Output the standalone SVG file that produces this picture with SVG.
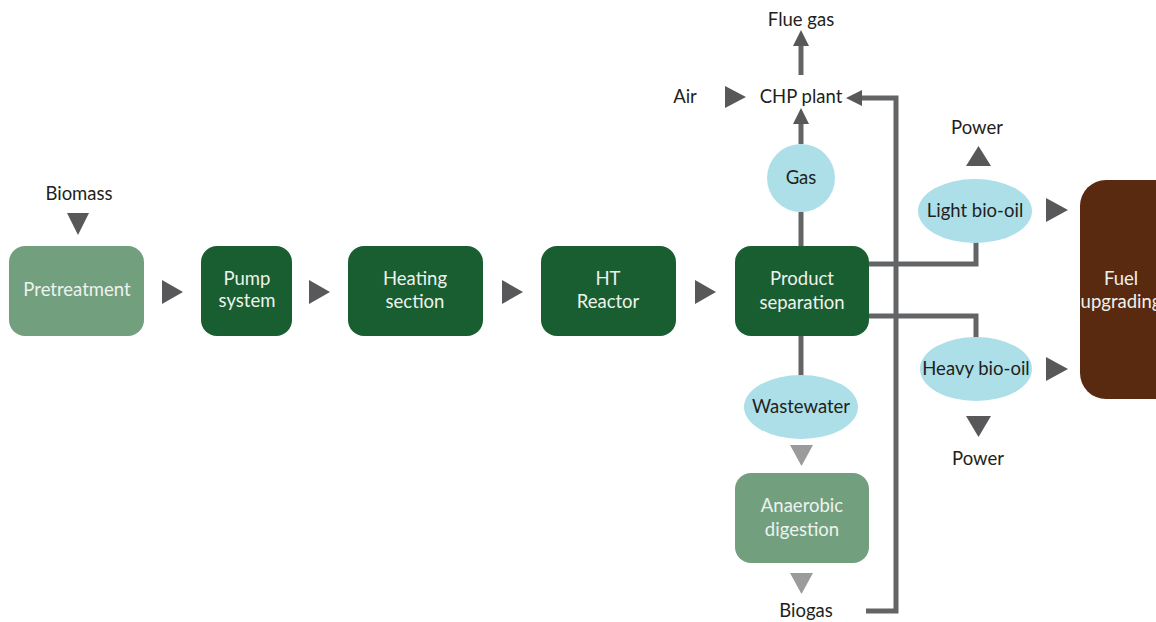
<svg xmlns="http://www.w3.org/2000/svg" width="1156" height="622" viewBox="0 0 1156 622">
<style>
text{font-family:Lato,"Open Sans","Liberation Sans",sans-serif;font-size:18.5px;text-anchor:middle}
.lbl{fill:#231f20}
.wt{fill:#eef2ee}
.dk{fill:#195e30}
.lt{fill:#72a07f}
.bl{fill:#acdfe8}
.ar{fill:#58585a}
.ag{fill:#9b9b9b}
.ln{stroke:#636466;stroke-width:5;fill:none}
</style>
<rect width="1156" height="622" fill="#fff"/>
<g id="connectors">
<path class="ln" d="M801 246V212M801 144V120"/>
<path class="ln" d="M801 75V44"/>
<polygon class="ar" points="801,30 793,46 809,46"/>
<polygon class="ar" points="801,108 793,124 809,124"/>
<path class="ln" d="M866 611H896V98H860"/>
<polygon class="ar" points="846,98 862,90 862,106"/>
<path class="ln" d="M869 264H976V242"/>
<path class="ln" d="M869 316H976V338"/>
<path class="ln" d="M801 336V376"/>
<polygon class="ar" points="162,280 183,292 162,304"/>
<polygon class="ar" points="309,280 330,292 309,304"/>
<polygon class="ar" points="502,280 523,292 502,304"/>
<polygon class="ar" points="695,280 716,292 695,304"/>
<polygon class="ar" points="67,213 89,213 78,235"/>
<polygon class="ar" points="725,86 746,97 725,108"/>
<polygon class="ar" points="966,166 991,166 978.5,146"/>
<polygon class="ar" points="966,416 991,416 978.5,437"/>
<polygon class="ar" points="1046,198 1068,210 1046,222"/>
<polygon class="ar" points="1046,357 1068,369 1046,381"/>
<polygon class="ag" points="790,445 813,445 801.5,466"/>
<polygon class="ag" points="790,573 813,573 801.5,594"/>
</g>
<g id="labels">
<text class="lbl" x="79" y="200">Biomass</text>
<text class="lbl" x="801" y="26">Flue gas</text>
<text class="lbl" x="801" y="103">CHP plant</text>
<text class="lbl" x="685" y="103">Air</text>
<text class="lbl" x="977" y="134">Power</text>
<text class="lbl" x="978" y="465">Power</text>
<text class="lbl" x="806" y="617">Biogas</text>
</g>
<g id="pretreatment"><rect class="lt" x="9" y="246" width="135" height="90" rx="16"/><text class="wt" x="77" y="296">Pretreatment</text></g>
<g id="pump"><rect class="dk" x="201" y="246" width="91" height="90" rx="16"/><text class="wt" x="247" y="285">Pump</text><text class="wt" x="247" y="307">system</text></g>
<g id="heating"><rect class="dk" x="348" y="246" width="135" height="90" rx="16"/><text class="wt" x="415" y="285">Heating</text><text class="wt" x="415" y="308">section</text></g>
<g id="reactor"><rect class="dk" x="541" y="246" width="135" height="90" rx="16"/><text class="wt" x="608" y="285">HT</text><text class="wt" x="608" y="308">Reactor</text></g>
<g id="separation"><rect class="dk" x="735" y="246" width="134" height="90" rx="16"/><text class="wt" x="802" y="285">Product</text><text class="wt" x="802" y="309">separation</text></g>
<g id="digestion"><rect class="lt" x="735" y="473" width="134" height="90" rx="16"/><text class="wt" x="802" y="512">Anaerobic</text><text class="wt" x="802" y="536">digestion</text></g>
<g id="gas"><circle class="bl" cx="801" cy="178" r="34"/><text class="lbl" x="801" y="184">Gas</text></g>
<g id="wastewater"><ellipse class="bl" cx="801" cy="407" rx="57" ry="32"/><text class="lbl" x="801" y="413">Wastewater</text></g>
<g id="lightoil"><ellipse class="bl" cx="975" cy="211" rx="57" ry="32"/><text class="lbl" x="975" y="217">Light bio-oil</text></g>
<g id="heavyoil"><ellipse class="bl" cx="976" cy="369" rx="56" ry="32"/><text class="lbl" x="976" y="375">Heavy bio-oil</text></g>
<g id="upgrading"><rect x="1080" y="180" width="100" height="219" rx="26" fill="#5a2a10"/><text class="wt" x="1121" y="285">Fuel</text><text class="wt" x="1121" y="308">upgrading</text></g>
</svg>
